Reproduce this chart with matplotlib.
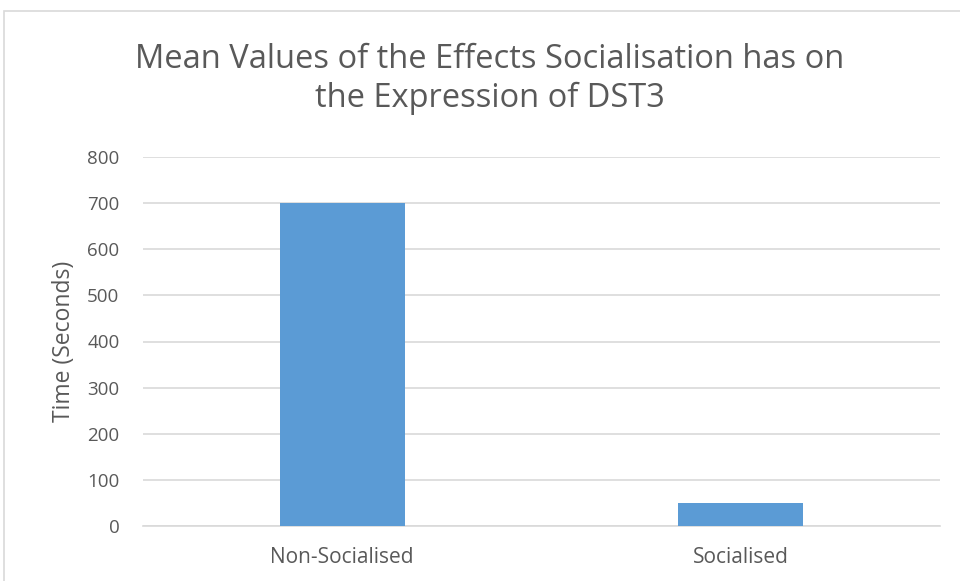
import matplotlib
matplotlib.use('Agg')
import matplotlib.pyplot as plt
from matplotlib.patches import Rectangle

categories = ['Non-Socialised', 'Socialised']
mean_times = [700, 50]
y_ticks = [0, 100, 200, 300, 400, 500, 600, 700, 800]

plt.rcParams['font.family'] = ['Open Sans', 'DejaVu Sans']
text_color = '#595959'
grid_color = '#d9d9d9'
bar_color = '#5b9bd5'

fig = plt.figure(figsize=(9.6, 5.81), dpi=100)

# outer chart border, cropped at right and bottom like the screenshot
frame = Rectangle((4 / 960, -0.1), 2.0, 1 - 11 / 581 + 0.1,
                  transform=fig.transFigure, fill=False,
                  edgecolor=grid_color, linewidth=1.2)
fig.patches.append(frame)

ax = fig.add_axes([143 / 960, 1 - 526 / 581, (940 - 143) / 960, (526 - 157) / 581])
ax.bar(range(len(categories)), mean_times, width=0.314, color=bar_color, zorder=3)

ax.set_xlim(-0.5, len(categories) - 0.5)
ax.set_ylim(0, 800)
ax.set_yticks(y_ticks)
ax.set_xticks(range(len(categories)))
ax.set_xticklabels(categories)
ax.yaxis.grid(True, color=grid_color, linewidth=1.2, zorder=0)
for side in ['top', 'right', 'left']:
    ax.spines[side].set_visible(False)
ax.spines['bottom'].set_color(grid_color)
ax.spines['bottom'].set_linewidth(1.2)
ax.tick_params(axis='both', length=0, colors=text_color)
ax.tick_params(axis='y', labelsize=13.5, pad=17)
ax.tick_params(axis='x', labelsize=15, pad=15)
ax.set_ylabel('Time (Seconds)', fontsize=16.5, color=text_color, labelpad=8)

fig.text(490 / 960, 1 - 79 / 581,
         'Mean Values of the Effects Socialisation has on\nthe Expression of DST3',
         ha='center', va='center', fontsize=23.5, color=text_color,
         linespacing=1.25)

fig.savefig('out.png', dpi=100)
